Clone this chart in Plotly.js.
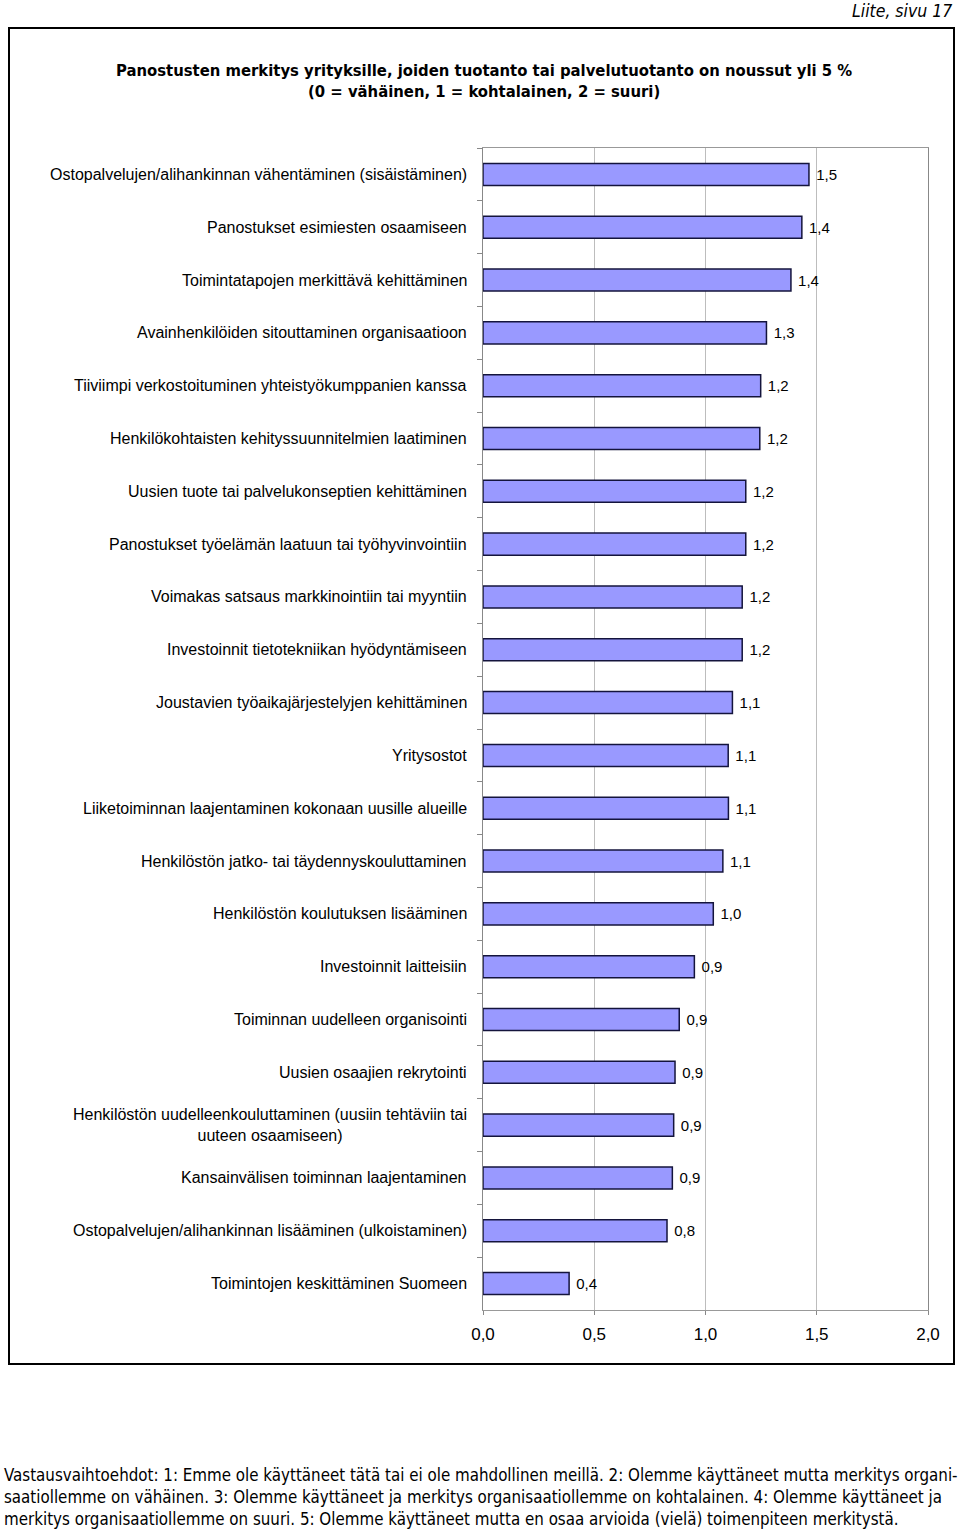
<!DOCTYPE html>
<html>
<head>
<meta charset="utf-8">
<script src="https://cdn.plot.ly/plotly-3.0.1.min.js"></script>
<style>
html,body{margin:0;padding:0;background:#fff;}
#chart{width:960px;height:1529px;}
</style>
</head>
<body>
<div id="chart"></div>
<script>
const categories = [
  "Ostopalvelujen/alihankinnan vähentäminen (sisäistäminen)",
  "Panostukset esimiesten osaamiseen",
  "Toimintatapojen merkittävä kehittäminen",
  "Avainhenkilöiden sitouttaminen organisaatioon",
  "Tiiviimpi verkostoituminen yhteistyökumppanien kanssa",
  "Henkilökohtaisten kehityssuunnitelmien laatiminen",
  "Uusien tuote tai palvelukonseptien kehittäminen",
  "Panostukset työelämän laatuun tai työhyvinvointiin",
  "Voimakas satsaus markkinointiin tai myyntiin",
  "Investoinnit tietotekniikan hyödyntämiseen",
  "Joustavien työaikajärjestelyjen kehittäminen",
  "Yritysostot",
  "Liiketoiminnan laajentaminen kokonaan uusille alueille",
  "Henkilöstön jatko- tai täydennyskouluttaminen",
  "Henkilöstön koulutuksen lisääminen",
  "Investoinnit laitteisiin",
  "Toiminnan uudelleen organisointi",
  "Uusien osaajien rekrytointi",
  "Henkilöstön uudelleenkouluttaminen (uusiin tehtäviin tai<br>uuteen osaamiseen)",
  "Kansainvälisen toiminnan laajentaminen",
  "Ostopalvelujen/alihankinnan lisääminen (ulkoistaminen)",
  "Toimintojen keskittäminen Suomeen"
];
const values = [1.465, 1.433, 1.384, 1.274, 1.248, 1.244, 1.181, 1.181, 1.165, 1.165, 1.121, 1.102,
                1.103, 1.078, 1.035, 0.950, 0.882, 0.863, 0.857, 0.851, 0.827, 0.387];
const xTicks = [0, 0.5, 1.0, 1.5, 2.0];

const titleText = "Panostusten merkitys yrityksille, joiden tuotanto tai palvelutuotanto on noussut yli 5 %<br>(0 = vähäinen, 1 = kohtalainen, 2 = suuri)";
const pageText = "Liite, sivu 17";
const noteText = "Vastausvaihtoehdot: 1: Emme ole käyttäneet tätä tai ei ole mahdollinen meillä. 2: Olemme käyttäneet mutta merkitys organi-<br>saatiollemme on vähäinen. 3: Olemme käyttäneet ja merkitys organisaatiollemme on kohtalainen. 4: Olemme käyttäneet ja<br>merkitys organisaatiollemme on suuri. 5: Olemme käyttäneet mutta en osaa arvioida (vielä) toimenpiteen merkitystä.";

const W = 960, H = 1529;
const px = x => x / W;
const py = y => 1 - y / H;
const narrow = "Liberation Sans Narrow, Arial Narrow, DejaVu Sans Condensed, sans-serif";
const sans = "Liberation Sans, Arial, sans-serif";

const trace = {
  type: "bar",
  orientation: "h",
  x: values,
  y: categories,
  marker: {color: "#9999FF", line: {color: "#14143c", width: 1.5}},
  texttemplate: "&nbsp;%{x:.1f}",
  textposition: "outside",
  textfont: {family: sans, size: 15, color: "#000"},
  constraintext: "none",
  cliponaxis: false,
  hoverinfo: "skip"
};

const labelAnns = categories.map(c => ({
  xref: "paper", yref: "y", x: px(469), y: c,
  text: c, showarrow: false, xanchor: "right", yanchor: "middle", align: "center",
  font: {family: sans, size: 16, color: "#000"}
}));

const layout = {
  width: W, height: H,
  margin: {l: 0, r: 0, t: 0, b: 0},
  paper_bgcolor: "#fff", plot_bgcolor: "#fff",
  separators: ", ",
  showlegend: false,
  bargap: 0.583,
  xaxis: {
    domain: [px(483), px(928)],
    range: [0, 2],
    tickvals: xTicks,
    tickformat: ".1f",
    ticks: "outside", ticklen: 4, tickcolor: "#888",
    ticklabelstandoff: 5,
    showgrid: true, gridcolor: "#bdbdbd", gridwidth: 1,
    zeroline: false,
    showline: true, linecolor: "#999", linewidth: 1, mirror: true,
    tickfont: {family: sans, size: 17, color: "#000"},
    fixedrange: true
  },
  yaxis: {
    domain: [py(1310), py(148)],
    type: "category",
    categoryorder: "array",
    categoryarray: categories,
    autorange: "reversed",
    showticklabels: false,
    ticks: "outside", ticklen: 5, tickcolor: "#888", tickson: "boundaries",
    showgrid: false, zeroline: false,
    showline: true, linecolor: "#888", linewidth: 1, mirror: true,
    fixedrange: true
  },
  shapes: [{
    type: "rect", xref: "paper", yref: "paper",
    x0: px(9), x1: px(954), y0: py(1364), y1: py(28),
    line: {color: "#000", width: 2}, fillcolor: "rgba(0,0,0,0)", layer: "below"
  }],
  annotations: labelAnns.concat([
    {xref: "paper", yref: "paper", x: px(484), y: py(81), text: titleText, showarrow: false,
     xanchor: "center", yanchor: "middle", align: "center",
     font: {family: narrow, size: 16.5, color: "#000", weight: "bold"}},
    {xref: "paper", yref: "paper", x: px(954), y: py(11), text: "<i>" + pageText + "</i>", showarrow: false,
     xanchor: "right", yanchor: "middle",
     font: {family: narrow, size: 17.5, color: "#000"}},
    {xref: "paper", yref: "paper", x: px(2), y: py(1497), text: noteText, showarrow: false,
     xanchor: "left", yanchor: "middle", align: "left",
     font: {family: narrow, size: 16.8, color: "#000"}}
  ])
};

Plotly.newPlot("chart", [trace], layout, {displayModeBar: false, staticPlot: true});
</script>
</body>
</html>
